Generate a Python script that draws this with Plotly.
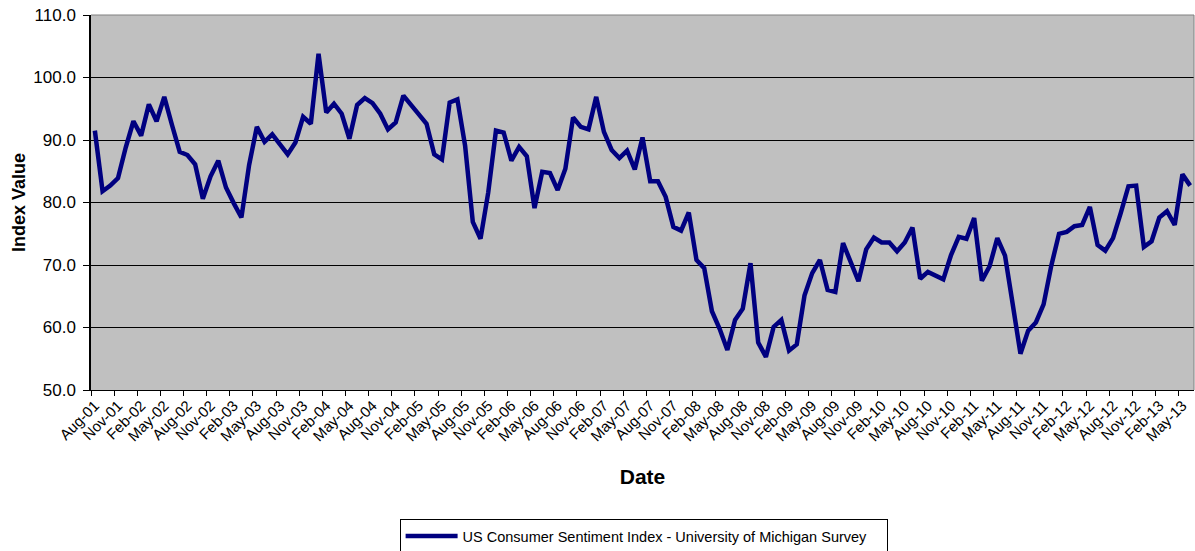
import plotly.graph_objects as go
import pandas as pd

# Monthly index values, Aug-2001 .. Jun-2013
v2001 = [91.5, 81.8, 82.7, 83.9, 88.8]
v2002 = [93.0, 90.7, 95.7, 93.0, 96.9, 92.4, 88.1, 87.6, 86.1, 80.6, 84.2, 86.7]
v2003 = [82.4, 79.9, 77.6, 86.0, 92.1, 89.7, 90.9, 89.3, 87.7, 89.6, 93.7, 92.6]
v2004 = [103.8, 94.4, 95.8, 94.2, 90.2, 95.6, 96.7, 95.9, 94.2, 91.7, 92.8, 97.1]
v2005 = [95.5, 94.1, 92.6, 87.7, 86.9, 96.0, 96.5, 89.1, 76.9, 74.2, 81.6, 91.5]
v2006 = [91.2, 86.7, 88.9, 87.4, 79.1, 84.9, 84.7, 82.0, 85.4, 93.6, 92.1, 91.7]
v2007 = [96.9, 91.3, 88.4, 87.1, 88.3, 85.3, 90.4, 83.4, 83.4, 80.9, 76.1, 75.5]
v2008 = [78.4, 70.8, 69.5, 62.6, 59.8, 56.4, 61.2, 63.0, 70.3, 57.6, 55.3, 60.1]
v2009 = [61.2, 56.3, 57.3, 65.1, 68.7, 70.8, 66.0, 65.7, 73.5, 70.6, 67.4, 72.5]
v2010 = [74.4, 73.6, 73.6, 72.2, 73.6, 76.0, 67.8, 68.9, 68.2, 67.7, 71.6, 74.5]
v2011 = [74.2, 77.5, 67.5, 69.8, 74.3, 71.5, 63.7, 55.8, 59.5, 60.8, 63.7, 69.9]
v2012 = [75.0, 75.3, 76.2, 76.4, 79.3, 73.2, 72.3, 74.3, 78.3, 82.6, 82.7, 72.9]
v2013 = [73.8, 77.6, 78.6, 76.4, 84.5, 82.7]

values = (v2001 + v2002 + v2003 + v2004 + v2005 + v2006 + v2007 + v2008
          + v2009 + v2010 + v2011 + v2012 + v2013)

months = list(pd.date_range("2001-08-01", periods=len(values), freq="MS").strftime("%b-%y"))
idx = list(range(len(values)))
label_idx = idx[::3]
label_text = [months[i] for i in label_idx]

y_ticks = [50, 60, 70, 80, 90, 100, 110]
y_text = ["%.1f" % v for v in y_ticks]

FONT = "Liberation Sans, Arial, sans-serif"

fig = go.Figure()
fig.add_trace(go.Scatter(
    x=idx, y=values, mode="lines",
    name="US Consumer Sentiment Index - University of Michigan Survey",
    line=dict(color="#000080", width=4.5),
    customdata=months,
    hovertemplate="%{customdata}: %{y:.1f}<extra></extra>",
))

fig.update_layout(
    width=1195, height=551,
    margin=dict(l=91, r=1, t=15, b=161, autoexpand=False),
    paper_bgcolor="white",
    plot_bgcolor="#C0C0C0",
    font=dict(family=FONT, color="black"),
    showlegend=True,
    legend=dict(
        orientation="h", x=0.501, xanchor="center", y=-0.344, yanchor="top",
        bordercolor="black", borderwidth=1, bgcolor="white",
        font=dict(size=14.5, family=FONT, color="black"),
        itemwidth=52,
        entrywidth=419,
    ),
    xaxis=dict(
        range=[-0.5, len(values) - 0.5],
        tickmode="array", tickvals=label_idx, ticktext=label_text,
        ticks="", tickangle=-45, tickfont=dict(size=15, family=FONT),
        showgrid=False, zeroline=False,
        showline=True, linecolor="black", linewidth=1,
        minor=dict(tickmode="linear", tick0=-0.5, dtick=3, ticks="outside",
                   ticklen=5, tickcolor="black", tickwidth=1, showgrid=False),
        title=dict(text="<b>Date</b>", font=dict(size=21, family=FONT), standoff=25),
    ),
    yaxis=dict(
        range=[50, 110],
        tickmode="array", tickvals=y_ticks, ticktext=y_text,
        ticks="outside", ticklen=6, tickcolor="black", tickwidth=1,
        tickfont=dict(size=17, family=FONT),
        ticklabelstandoff=4,
        ticklabeloverflow="allow",
        showgrid=True, gridcolor="black", gridwidth=1,
        zeroline=False,
        showline=True, linecolor="black", linewidth=1.5,
        title=dict(text="<b>Index Value</b>", font=dict(size=18, family=FONT), standoff=3),
    ),
)

# light grey frame on top and right of the plot area
fig.add_shape(type="line", xref="paper", yref="paper", x0=0, x1=1, y0=1, y1=1,
              line=dict(color="#808080", width=1), layer="above")
fig.add_shape(type="line", xref="paper", yref="paper", x0=1, x1=1, y0=0, y1=1,
              line=dict(color="#808080", width=1), layer="above")

# remove the default page margin so the 1195x551 figure fills the window exactly
fig.write_html("out.html", config={"displayModeBar": False},
               post_script="document.body.style.margin='0';")
